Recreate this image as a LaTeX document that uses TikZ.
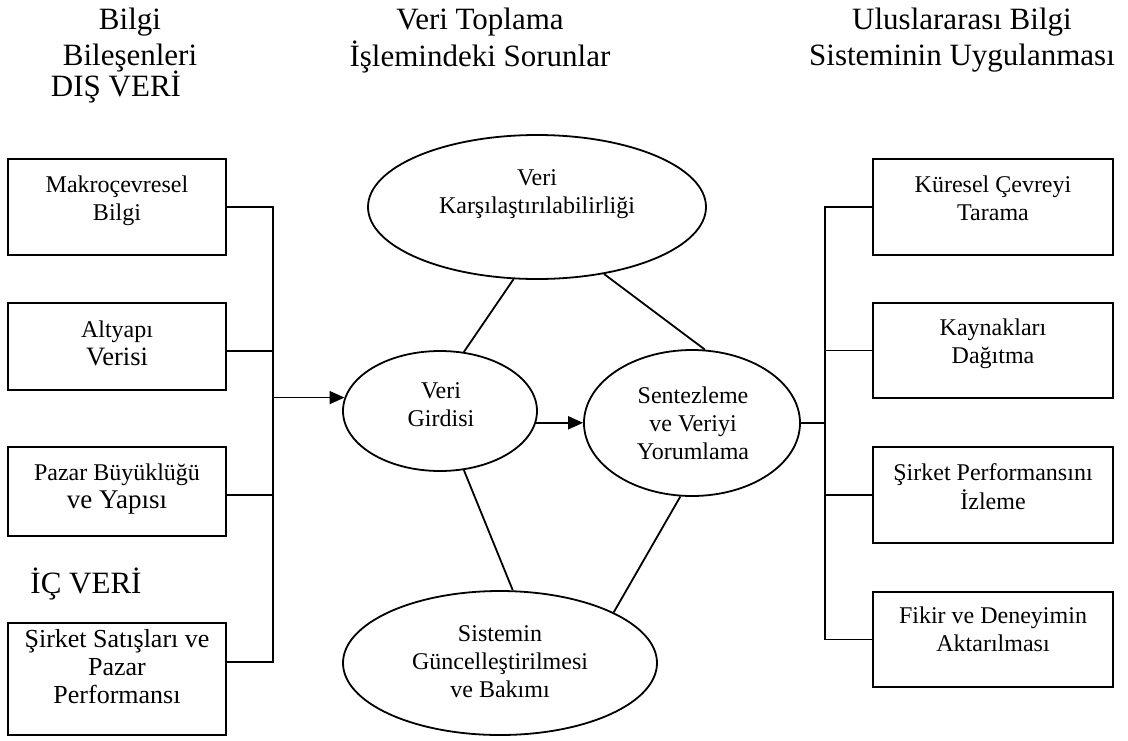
\documentclass[tikz,border=0pt]{standalone}
\usepackage{fontspec}
\setmainfont{Liberation Serif}
\usetikzlibrary{arrows.meta,shapes.geometric}
\begin{document}
\begin{tikzpicture}[x=1pt,y=-1pt,
  boxnode/.style={draw,line width=1.8pt,inner sep=0pt,minimum width=#1},
  boxnode/.default=218pt,
  ellnode/.style={draw,ellipse,line width=1.8pt,inner sep=0pt},
  txt/.style={font=\fontsize{24}{28}\selectfont,align=center,inner sep=0pt,anchor=north},
  bigtxt/.style={txt,font=\fontsize{26}{28}\selectfont},
  hdr/.style={font=\fontsize{31}{36}\selectfont,align=center,inner sep=0pt,anchor=north},
  lbl/.style={font=\fontsize{31}{36}\selectfont,inner sep=0pt,anchor=base},
  ln/.style={line width=1.8pt},
  arr/.style={line width=1.8pt,-{Triangle[length=15pt,width=13pt]}}]
\useasboundingbox (0,0) rectangle (1128,740);

% headers
\node[hdr] (h1) at (130,3.8) {\strut Bilgi\\Bileşenleri};
\node[hdr] (h2) at (480,3.8) {\strut Veri Toplama\\İşlemindeki Sorunlar};
\node[hdr] (h3) at (962,3.8) {\strut Uluslararası Bilgi\\Sisteminin Uygulanması};
\node[lbl] (dis) at (116,96) {DIŞ VERİ};
\node[lbl] (ic) at (86,593) {İÇ VERİ};

% left boxes
\node[boxnode, minimum height=96pt] (l1) at (117,207) {};
\node[boxnode, minimum height=87pt] (l2) at (117,346.5) {};
\node[boxnode, minimum height=89pt] (l3) at (117,491.5) {};
\node[boxnode, minimum height=112pt] (l4) at (117,679) {};
\node[txt] (t-l1) at (117,172.4) {\strut Makroçevresel\\Bilgi};
\node[txt] (t-l2) at (117,317.4) {\strut Altyapı\\{\fontsize{26.5}{28}\selectfont Verisi}};
\node[txt] (t-l3) at (117,460.4) {\strut Pazar Büyüklüğü\\{\fontsize{27}{28}\selectfont ve Yapısı}};
\node[bigtxt] (t-l4) at (117,627.4) {\strut Şirket Satışları ve\\Pazar\\Performansı};

% right boxes
\node[boxnode=240pt, minimum height=96pt] (r1) at (993,207) {};
\node[boxnode=240pt, minimum height=95pt] (r2) at (993,350.5) {};
\node[boxnode=240pt, minimum height=96pt] (r3) at (993,495) {};
\node[boxnode=240pt, minimum height=95pt] (r4) at (993,639.5) {};
\node[txt] (t-r1) at (993,172.4) {\strut Küresel Çevreyi\\Tarama};
\node[txt] (t-r2) at (993,315.4) {\strut Kaynakları\\Dağıtma};
\node[txt] (t-r3) at (993,460.4) {\strut Şirket Performansını\\İzleme};
\node[txt] (t-r4) at (993,603.4) {\strut Fikir ve Deneyimin\\Aktarılması};

% ellipses
\node[ellnode, minimum width=338pt, minimum height=144pt] (top) at (537,207) {};
\node[ellnode, minimum width=194pt, minimum height=120pt] (gir) at (440,411) {};
\node[ellnode, minimum width=216pt, minimum height=146pt] (sent) at (692,423) {};
\node[ellnode, minimum width=314pt, minimum height=144pt] (bot) at (500,663) {};
\node[txt] (t-top) at (537,165.4) {\strut Veri\\Karşılaştırılabilirliği};
\node[txt] (t-gir) at (441,378.4) {\strut Veri\\Girdisi};
\node[txt] (t-sent) at (693,383.4) {\strut Sentezleme\\ve Veriyi\\Yorumlama};
\node[txt] (t-bot) at (500,621.4) {\strut Sistemin\\Güncelleştirilmesi\\ve Bakımı};

% left bus
\coordinate (bL) at (gir.172 -| 273,0);
\coordinate (l2c) at ([yshift=-4.5pt]l2.east);
\coordinate (l3c) at ([yshift=-3.5pt]l3.east);
\coordinate (l4c) at ([yshift=17pt]l4.east);
\draw[ln] (l1.east) -| (l4c -| bL) -- (l4c);
\draw[ln] (l2c) -- (l2c -| bL);
\draw[ln] (l3c) -- (l3c -| bL);
\draw[arr] (bL) -- (gir.172);

% right bus
\coordinate (bR) at (sent.east -| 825,0);
\draw[ln] (r1.west) -| (r4.west -| bR) -- (r4.west);
\draw[ln] (r2.west) -- (r2.west -| bR);
\draw[ln] (r3.west) -- (r3.west -| bR);
\draw[ln] (sent.east) -- (bR);

% middle
\draw[arr] (gir.-7) -- (gir.-7 -| sent.west);
\draw[ln] (top.-108) -- (gir.68);
\draw[ln] (top.-45) -- (sent.80);
\draw[ln] (gir.-68) -- (bot.80);
\draw[ln] (sent.-99) -- (bot.24);
\end{tikzpicture}
\end{document}
